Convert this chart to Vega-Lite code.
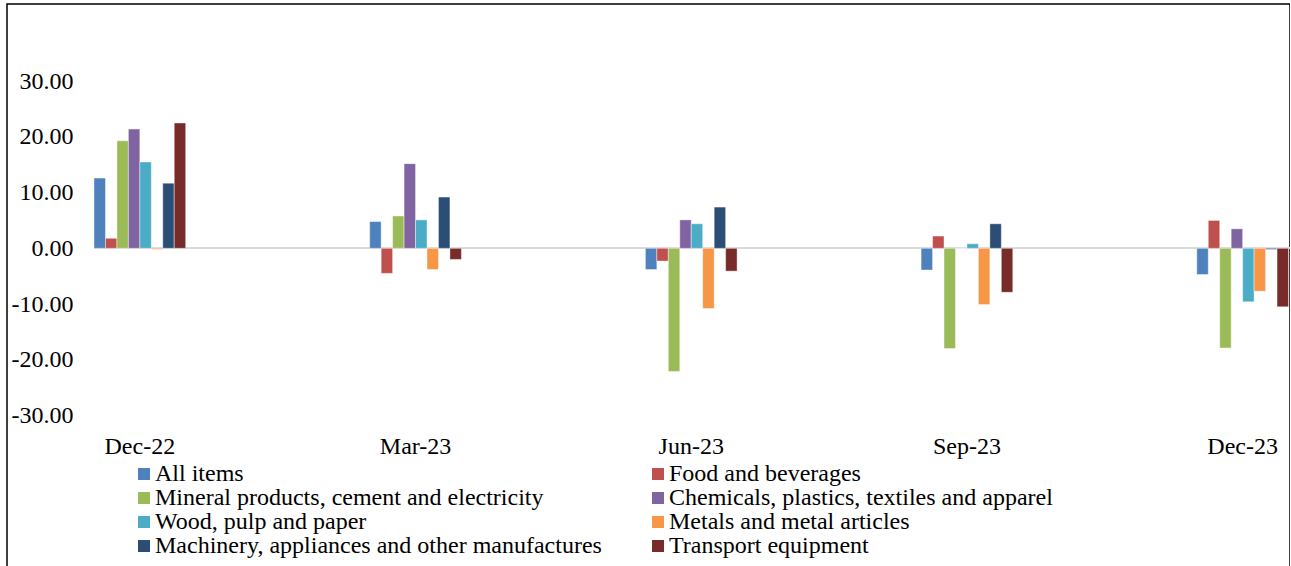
{
  "$schema": "https://vega.github.io/schema/vega-lite/v6.json",
  "autosize": {"type": "none"},
  "padding": {"left": 7, "top": 4, "right": 0, "bottom": 0},
  "width": 1283,
  "height": 600,
  "background": "#ffffff",
  "config": {
    "view": {"stroke": "#000000", "strokeWidth": 1.5},
    "font": "Liberation Serif, Times New Roman, serif"
  },
  "data": {
    "values": [
      {"date": "Dec-22", "series": "All items", "value": 12.6},
      {"date": "Dec-22", "series": "Food and beverages", "value": 1.8},
      {"date": "Dec-22", "series": "Mineral products, cement and electricity", "value": 19.3},
      {"date": "Dec-22", "series": "Chemicals, plastics, textiles and apparel", "value": 21.4},
      {"date": "Dec-22", "series": "Wood, pulp and paper", "value": 15.5},
      {"date": "Dec-22", "series": "Metals and metal articles", "value": -0.2},
      {"date": "Dec-22", "series": "Machinery, appliances and other manufactures", "value": 11.7},
      {"date": "Dec-22", "series": "Transport equipment", "value": 22.5},
      {"date": "Mar-23", "series": "All items", "value": 4.8},
      {"date": "Mar-23", "series": "Food and beverages", "value": -4.5},
      {"date": "Mar-23", "series": "Mineral products, cement and electricity", "value": 5.8},
      {"date": "Mar-23", "series": "Chemicals, plastics, textiles and apparel", "value": 15.2},
      {"date": "Mar-23", "series": "Wood, pulp and paper", "value": 5.1},
      {"date": "Mar-23", "series": "Metals and metal articles", "value": -3.8},
      {"date": "Mar-23", "series": "Machinery, appliances and other manufactures", "value": 9.2},
      {"date": "Mar-23", "series": "Transport equipment", "value": -2.0},
      {"date": "Jun-23", "series": "All items", "value": -3.8},
      {"date": "Jun-23", "series": "Food and beverages", "value": -2.3},
      {"date": "Jun-23", "series": "Mineral products, cement and electricity", "value": -22.1},
      {"date": "Jun-23", "series": "Chemicals, plastics, textiles and apparel", "value": 5.1},
      {"date": "Jun-23", "series": "Wood, pulp and paper", "value": 4.4},
      {"date": "Jun-23", "series": "Metals and metal articles", "value": -10.8},
      {"date": "Jun-23", "series": "Machinery, appliances and other manufactures", "value": 7.4},
      {"date": "Jun-23", "series": "Transport equipment", "value": -4.1},
      {"date": "Sep-23", "series": "All items", "value": -3.9},
      {"date": "Sep-23", "series": "Food and beverages", "value": 2.2},
      {"date": "Sep-23", "series": "Mineral products, cement and electricity", "value": -18.0},
      {"date": "Sep-23", "series": "Chemicals, plastics, textiles and apparel", "value": 0.0},
      {"date": "Sep-23", "series": "Wood, pulp and paper", "value": 0.8},
      {"date": "Sep-23", "series": "Metals and metal articles", "value": -10.1},
      {"date": "Sep-23", "series": "Machinery, appliances and other manufactures", "value": 4.4},
      {"date": "Sep-23", "series": "Transport equipment", "value": -7.9},
      {"date": "Dec-23", "series": "All items", "value": -4.7},
      {"date": "Dec-23", "series": "Food and beverages", "value": 5.0},
      {"date": "Dec-23", "series": "Mineral products, cement and electricity", "value": -17.9},
      {"date": "Dec-23", "series": "Chemicals, plastics, textiles and apparel", "value": 3.5},
      {"date": "Dec-23", "series": "Wood, pulp and paper", "value": -9.6},
      {"date": "Dec-23", "series": "Metals and metal articles", "value": -7.7},
      {"date": "Dec-23", "series": "Machinery, appliances and other manufactures", "value": -0.2},
      {"date": "Dec-23", "series": "Transport equipment", "value": -10.5}
    ]
  },
  "layer": [
    {
      "mark": {"type": "rule", "color": "#d9d9d9", "strokeWidth": 1.5},
      "encoding": {
        "x": {"datum": "Dec-22", "bandPosition": 0},
        "x2": {"value": "width"},
        "y": {"datum": 0}
      }
    },
    {
      "mark": {"type": "bar", "stroke": "#ffffff", "strokeWidth": 0.6, "strokeOpacity": 0.7},
      "encoding": {
        "x": {
          "field": "date",
          "type": "nominal",
          "scale": {
            "domain": ["Dec-22", "Mar-23", "Jun-23", "Sep-23", "Dec-23"],
            "paddingInner": 0.6674,
            "paddingOuter": 0.1605,
            "align": 0.983
          },
          "axis": {
            "title": null,
            "orient": "bottom",
            "offset": -151,
            "bandPosition": 0.5,
            "domain": false,
            "ticks": false,
            "tickSize": 0,
            "labelPadding": 0,
            "labelBaseline": "alphabetic",
            "labelAlign": "center",
            "labelFontSize": 24,
            "labelAngle": 0,
            "labelColor": "#000000",
            "labelFont": "Liberation Serif, Times New Roman, serif"
          }
        },
        "xOffset": {
          "field": "series",
          "type": "nominal",
          "sort": ["All items", "Food and beverages", "Mineral products, cement and electricity", "Chemicals, plastics, textiles and apparel", "Wood, pulp and paper", "Metals and metal articles", "Machinery, appliances and other manufactures", "Transport equipment"],
          "scale": {"paddingInner": 0, "paddingOuter": 0}
        },
        "y": {
          "field": "value",
          "type": "quantitative",
          "scale": {"domain": [-63.86, 43.86], "nice": false},
          "axis": {
            "title": null,
            "values": [-30, -20, -10, 0, 10, 20, 30],
            "labelExpr": "(datum.value < 0 ? '-' : '') + format(abs(datum.value), '.2f')",
            "grid": false,
            "domain": false,
            "ticks": false,
            "tickSize": 0,
            "labelPadding": -66,
            "labelFontSize": 24,
            "labelColor": "#000000",
            "labelFont": "Liberation Serif, Times New Roman, serif"
          }
        },
        "y2": {"datum": 0},
        "color": {
          "field": "series",
          "type": "nominal",
          "scale": {
            "domain": ["All items", "Mineral products, cement and electricity", "Wood, pulp and paper", "Machinery, appliances and other manufactures", "Food and beverages", "Chemicals, plastics, textiles and apparel", "Metals and metal articles", "Transport equipment"],
            "range": ["#4F81BD", "#9BBB59", "#4BACC6", "#2C4D75", "#C0504D", "#8064A2", "#F79646", "#772C2A"]
          },
          "legend": {
            "title": null,
            "orient": "none",
            "legendX": 125,
            "legendY": 458,
            "columns": 2,
            "symbolType": "square",
            "symbolSize": 144,
            "symbolStrokeWidth": 0,
            "labelFontSize": 24,
            "labelFont": "Liberation Serif, Times New Roman, serif",
            "labelColor": "#000000",
            "labelLimit": 0,
            "labelOffset": -1,
            "columnPadding": 44,
            "rowPadding": -1,
            "padding": 0
          }
        }
      }
    }
  ]
}
